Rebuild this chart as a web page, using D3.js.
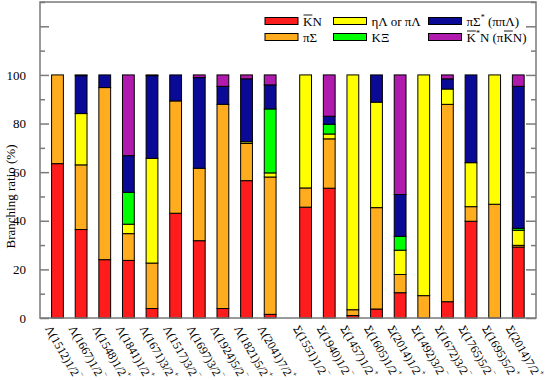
<!DOCTYPE html>
<html><head><meta charset="utf-8">
<script src="https://cdn.jsdelivr.net/npm/d3@7/dist/d3.min.js"></script>
<style>body{margin:0;background:#fff}svg{display:block}text{font-family:"Liberation Serif","DejaVu Serif",serif}</style>
</head><body><svg id="c" width="556" height="380"></svg>
<script>
// states: [base, J, parity]
const lambdaStates = [["Λ(1512)","1/2","−"],["Λ(1667)","1/2","−"],["Λ(1548)","1/2","+"],["Λ(1841)","1/2","+"],["Λ(1671)","3/2","+"],["Λ(1517)","3/2","−"],["Λ(1697)","3/2","−"],["Λ(1924)","5/2","−"],["Λ(1821)","5/2","+"],["Λ(2041)","7/2","+"]];
const sigmaStates = [["Σ(1551)","1/2","−"],["Σ(1940)","1/2","−"],["Σ(1457)","1/2","+"],["Σ(1605)","1/2","+"],["Σ(2014)","1/2","+"],["Σ(1492)","3/2","−"],["Σ(1672)","3/2","−"],["Σ(1765)","5/2","−"],["Σ(1695)","5/2","+"],["Σ(2014)","7/2","+"]];
const channels = ["KbarN","piSigma","etaLambda","KXi","piSigmaStar","KstarN"];
// branching ratios (%) per channel, lambda bars then sigma bars
const KbarN       = [63.5,36.4,24.0,23.7,3.9,43.1,31.8,3.9,56.5,1.5,   45.6,53.4,1.0,3.7,10.4,0,6.7,39.8,0,29.2];
const piSigma     = [36.5,26.6,70.8,11.0,18.7,46.2,29.8,84.0,15.3,56.5, 7.9,20.3,2.4,41.7,7.5,9.2,81.2,6.0,46.8,0.7];
const etaLambda   = [0,21.1,0,3.9,43.1,0,0,0,0.7,1.7,                 46.5,2.0,96.6,43.4,10.0,90.8,6.3,18.1,53.2,6.2];
const KXi         = [0,0,0,13.1,0,0,0,0,0,26.3,                       0,4.0,0,0,5.7,0,0,0,0,0.8];
const piSigmaStar = [0,15.6,5.2,15.1,34.0,10.7,37.3,7.4,25.9,9.9,     0,3.3,0,11.2,17.2,0,4.2,36.1,0,58.4];
const KstarN      = [0,0.3,0,33.2,0.3,0,1.1,4.7,1.6,4.1,              0,17.0,0,0,49.2,0,1.6,0,0,4.7];
const yTicks = [0,20,40,60,80,100];

const colors = {KbarN:"#ff1c1c",piSigma:"#ffad1f",etaLambda:"#ffff00",KXi:"#00ff00",piSigmaStar:"#0a0a96",KstarN:"#b01aad"};
const series = {KbarN,piSigma,etaLambda,KXi,piSigmaStar,KstarN};
const states = lambdaStates.concat(sigmaStates);
const xs = states.map((d,i)=> i<10 ? i+1 : i+1.5);
const rows = states.map((s,i)=>{const r={x:xs[i]}; channels.forEach(c=>r[c]=series[c][i]); return r;});

const svg = d3.select("#c");
const L=40,R=536,T=2,B=318;
const x = d3.scaleLinear().domain([0.26,21.25]).range([L,R]);
const y = d3.scaleLinear().domain([0,130]).range([B,T]);
const bw = 11.8;

const stack = d3.stack().keys(channels)(rows);
const g = svg.append("g");
stack.forEach(layer=>{
  g.selectAll(null).data(layer.filter(d=>d[1]-d[0]>0)).enter().append("rect")
   .attr("x",d=>x(d.data.x)-bw/2).attr("width",bw)
   .attr("y",d=>y(d[1])).attr("height",d=>y(d[0])-y(d[1]))
   .attr("fill",colors[layer.key]).attr("stroke","#000").attr("stroke-width",1);
});

// frame
const fc="#7a7a7a";
svg.append("rect").attr("x",L).attr("y",T).attr("width",R-L).attr("height",B-T).attr("fill","none").attr("stroke",fc).attr("stroke-width",1.5);
const yAxisL = d3.axisLeft(y).tickValues(d3.range(0,131,20)).tickSize(-9).tickFormat(d=> yTicks.includes(d)?d:"").tickPadding(14);
const ga = svg.append("g").attr("transform",`translate(${L},0)`).call(yAxisL);
ga.select(".domain").remove();
ga.selectAll("line").attr("stroke",fc).attr("stroke-width",1.5);
ga.selectAll("text").attr("font-size",13).attr("fill","#000").attr("font-family","Liberation Serif");
const gm = svg.append("g").attr("transform",`translate(${L},0)`).call(d3.axisLeft(y).tickValues(d3.range(10,131,20)).tickSize(-5).tickFormat(""));
gm.select(".domain").remove(); gm.selectAll("line").attr("stroke",fc).attr("stroke-width",1.5);
const gr = svg.append("g").attr("transform",`translate(${R},0)`).call(d3.axisRight(y).tickValues(d3.range(0,131,20)).tickSize(-10).tickFormat(""));
gr.select(".domain").remove(); gr.selectAll("line").attr("stroke",fc).attr("stroke-width",1.5);
const grm = svg.append("g").attr("transform",`translate(${R},0)`).call(d3.axisRight(y).tickValues(d3.range(10,131,20)).tickSize(-5).tickFormat(""));
grm.select(".domain").remove(); grm.selectAll("line").attr("stroke",fc).attr("stroke-width",1.5);

// y label
svg.append("text").attr("transform",`translate(15,${(y(0)+y(100))/2}) rotate(-90)`).attr("text-anchor","middle")
  .attr("font-size",13).text("Branching ratio (%)");

// x labels
states.forEach((s,i)=>{
  const t = svg.append("text").attr("transform",`translate(${x(xs[i])-5},${B+6}) rotate(60)`)
    .attr("font-size",12).attr("dominant-baseline","hanging");
  t.append("tspan").text(s[0]+s[1]);
  t.append("tspan").attr("font-size",8).attr("dy",-4).text(s[2]);
});

// legend: parts [text, type] type 0 normal, 1 overline, 2 superscript
const leg = [
  {k:"KbarN",x:265,y:17.5,parts:[["K",1],["N",0]]},
  {k:"etaLambda",x:333.5,y:17.5,parts:[["ηΛ or πΛ",0]]},
  {k:"piSigmaStar",x:428.5,y:17.5,parts:[["πΣ",0],["*",2],[" (ππΛ)",0]]},
  {k:"piSigma",x:265,y:33.5,parts:[["πΣ",0]]},
  {k:"KXi",x:333.5,y:33.5,parts:[["KΞ",0]]},
  {k:"KstarN",x:428.5,y:33.5,parts:[["K",1],["*",2],["N (π",0],["K",1],["N)",0]]}
];
leg.forEach(l=>{
  svg.append("rect").attr("x",l.x).attr("y",l.y).attr("width",33).attr("height",7).attr("fill",colors[l.k]).attr("stroke","#000").attr("stroke-width",1);
  const by = l.y+8;
  const t = svg.append("text").attr("x",l.x+38).attr("y",by).attr("font-size",13);
  let prevSup=false;
  const overs=[];
  l.parts.forEach(p=>{
    const ts = t.append("tspan").text(p[0]);
    if(p[1]===2){ ts.attr("font-size",8).attr("dy",-6); prevSup=true; }
    else { if(prevSup){ ts.attr("dy",6); prevSup=false; } }
    if(p[1]===1) overs.push(ts.node());
  });
  overs.forEach(n=>{
    const sp = n.getStartPositionOfChar(0);
    const w = n.getComputedTextLength();
    svg.append("line").attr("x1",sp.x+0.5).attr("x2",sp.x+w).attr("y1",by-10.5).attr("y2",by-10.5)
      .attr("stroke","#000").attr("stroke-width",0.9);
  });
});
</script></body></html>
